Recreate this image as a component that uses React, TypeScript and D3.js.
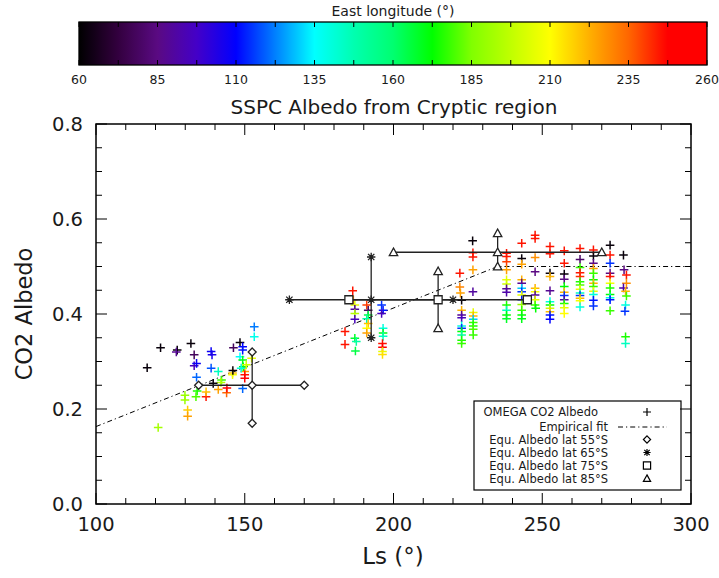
import React from "react";
import * as d3 from "d3";

// ---------- DATA ----------
// OMEGA CO2 albedo points: [Ls (deg), albedo, east longitude (deg)]
const omegaPoints: [number, number, number][] = [
  [117.2, 0.287, 62], [121.7, 0.329, 62], [127.3, 0.324, 62], [127.0, 0.320, 88],
  [131.9, 0.338, 62], [133.0, 0.314, 78], [133.0, 0.291, 95], [133.8, 0.296, 108],
  [133.8, 0.267, 120], [138.7, 0.321, 108], [139.0, 0.314, 105], [138.7, 0.286, 118],
  [141.1, 0.279, 145], [146.2, 0.329, 78], [148.4, 0.340, 62], [149.3, 0.331, 110],
  [149.3, 0.324, 112], [148.4, 0.310, 135], [149.3, 0.303, 170], [153.2, 0.373, 122],
  [153.2, 0.352, 138], [152.3, 0.307, 205], [145.9, 0.276, 220], [145.9, 0.272, 208],
  [146.0, 0.281, 62], [142.2, 0.261, 178], [142.0, 0.256, 195], [139.4, 0.254, 62],
  [141.1, 0.241, 225], [143.9, 0.234, 235], [144.0, 0.244, 248], [137.0, 0.226, 245],
  [137.0, 0.236, 220], [133.6, 0.226, 180], [134.0, 0.238, 175], [129.9, 0.229, 190],
  [129.9, 0.219, 190], [130.8, 0.198, 218], [130.8, 0.185, 225], [120.9, 0.161, 192],
  [149.3, 0.243, 120], [150.0, 0.279, 225], [150.0, 0.272, 245], [150.0, 0.265, 248],
  [149.5, 0.289, 170], [148.8, 0.286, 140], [150.5, 0.293, 200],
  [186.3, 0.449, 245], [186.5, 0.430, 230], [187.0, 0.419, 205], [187.0, 0.410, 90],
  [187.0, 0.401, 195], [187.0, 0.389, 95], [183.7, 0.363, 245], [183.7, 0.336, 245],
  [187.0, 0.349, 168], [187.5, 0.342, 150], [187.2, 0.322, 165], [191.0, 0.419, 240],
  [191.5, 0.408, 78], [191.5, 0.398, 165], [191.0, 0.390, 150], [191.5, 0.380, 220],
  [191.0, 0.370, 210], [191.0, 0.360, 225], [196.0, 0.419, 115], [196.5, 0.408, 112],
  [196.0, 0.401, 95], [196.5, 0.370, 140], [196.5, 0.360, 170], [196.5, 0.353, 145],
  [196.3, 0.338, 245], [196.3, 0.330, 248], [196.3, 0.321, 205], [196.3, 0.315, 215],
  [222.3, 0.486, 245], [222.3, 0.457, 230], [222.5, 0.444, 225], [222.9, 0.429, 62],
  [222.9, 0.408, 222], [222.9, 0.398, 88], [222.9, 0.392, 95], [222.9, 0.375, 140],
  [222.9, 0.370, 115], [222.9, 0.363, 172], [222.9, 0.356, 150], [222.9, 0.345, 175],
  [222.9, 0.338, 178],
  [226.6, 0.554, 62], [226.7, 0.529, 245], [226.7, 0.520, 245], [226.7, 0.493, 225],
  [226.7, 0.447, 90], [226.8, 0.403, 205], [226.8, 0.396, 222], [226.8, 0.389, 130],
  [226.8, 0.382, 178], [226.8, 0.375, 175], [226.8, 0.368, 180], [226.8, 0.356, 178],
  [238.0, 0.528, 245], [238.0, 0.521, 245], [238.0, 0.510, 240], [238.0, 0.493, 225],
  [238.0, 0.472, 205], [238.0, 0.463, 200], [238.0, 0.453, 88], [238.0, 0.446, 92],
  [238.0, 0.419, 175], [238.0, 0.408, 145], [238.0, 0.398, 172], [238.0, 0.390, 168],
  [243.1, 0.549, 245], [243.1, 0.517, 62], [243.1, 0.505, 225], [243.1, 0.472, 222],
  [243.1, 0.465, 88], [243.1, 0.454, 130], [243.1, 0.447, 115], [243.1, 0.440, 205],
  [243.1, 0.430, 112], [243.1, 0.420, 190], [243.1, 0.408, 178], [243.1, 0.398, 172],
  [243.1, 0.390, 170],
  [247.6, 0.566, 245], [247.6, 0.559, 245], [247.6, 0.519, 228], [247.6, 0.489, 85],
  [247.6, 0.454, 222], [247.6, 0.447, 208], [247.6, 0.440, 90], [247.6, 0.430, 205],
  [247.6, 0.419, 178], [247.8, 0.412, 172],
  [252.6, 0.542, 245], [252.6, 0.527, 245], [252.6, 0.486, 62], [252.6, 0.479, 222],
  [252.6, 0.449, 88], [252.6, 0.426, 140], [252.6, 0.419, 172], [252.6, 0.412, 200],
  [252.6, 0.405, 220], [252.6, 0.398, 112], [252.6, 0.389, 110],
  [257.4, 0.533, 245], [257.4, 0.507, 245], [257.4, 0.484, 62], [257.4, 0.473, 85],
  [257.4, 0.458, 172], [257.4, 0.446, 222], [257.4, 0.439, 115], [257.4, 0.430, 90],
  [257.4, 0.422, 175], [257.4, 0.413, 205], [257.4, 0.401, 210],
  [262.7, 0.538, 245], [262.7, 0.515, 80], [262.7, 0.498, 178], [262.7, 0.487, 245],
  [262.7, 0.479, 242], [262.7, 0.468, 175], [262.7, 0.461, 180], [262.7, 0.452, 205],
  [262.7, 0.444, 145], [262.7, 0.439, 115], [262.7, 0.433, 222], [262.7, 0.428, 208],
  [262.7, 0.415, 140],
  [267.2, 0.535, 245], [267.2, 0.522, 62], [267.2, 0.507, 85], [267.2, 0.496, 225],
  [267.2, 0.486, 178], [267.2, 0.472, 172], [267.2, 0.465, 222], [267.2, 0.458, 178],
  [267.2, 0.448, 205], [267.2, 0.441, 140], [267.2, 0.429, 112], [267.2, 0.417, 115],
  [272.8, 0.545, 62], [272.8, 0.524, 245], [272.8, 0.507, 115], [272.8, 0.486, 85],
  [272.8, 0.479, 245], [272.8, 0.465, 208], [272.8, 0.455, 175], [272.8, 0.441, 172],
  [272.8, 0.434, 140], [272.8, 0.430, 112], [272.8, 0.407, 178],
  [277.3, 0.524, 62], [277.5, 0.493, 85], [278.3, 0.482, 245], [278.3, 0.465, 228],
  [277.3, 0.455, 92], [278.0, 0.448, 222], [278.3, 0.438, 178], [278.0, 0.419, 140],
  [277.8, 0.406, 115], [278.0, 0.352, 175], [278.0, 0.338, 145],
];

// Empirical fit (dash-dot)
const fitLs = [100, 235, 300];
const fitAlbedo = [0.163, 0.5, 0.5];

// Equivalent albedo markers with error bars
const equLabels = [
  "Equ. Albedo lat 55°S",
  "Equ. Albedo lat 65°S",
  "Equ. Albedo lat 75°S",
  "Equ. Albedo lat 85°S",
];
const equSymbols = ["diamond", "asterisk", "square", "triangle"];
const equVertEndSymbols = ["diamond", "asterisk", "triangle", "triangle"];
const equLs = [152.5, 192.5, 215, 235];
const equAlbedo = [0.25, 0.43, 0.43, 0.53];
const equLsRange: [number, number][] = [[134.5, 170], [165, 220], [185, 245], [200, 270]];
const equAlbedoRange: [number, number][] = [[0.17, 0.32], [0.35, 0.52], [0.37, 0.49], [0.5, 0.57]];

// Axis ticks
const xTicks = [100, 150, 200, 250, 300];
const yTicks = [0.0, 0.2, 0.4, 0.6, 0.8];
const cbTicks = [60, 85, 110, 135, 160, 185, 210, 235, 260];

// Color table (east longitude -> colour)
const lonStops = [60, 72.5, 85, 97.5, 110, 122.5, 135, 147.5, 160, 172.5, 185, 197.5, 210, 222.5, 235, 247.5, 260];
const lonColors = [
  "#000000", "#33003f", "#5a0a82", "#4400c8", "#0000ff", "#0080ff", "#00ffff", "#00ffb0",
  "#00ff70", "#00ff00", "#80ff00", "#c0ff00", "#ffff00", "#ffb000", "#ff6600", "#ff0000", "#ff0000",
];

// ---------- CHART ----------
const FONT = "'DejaVu Sans', sans-serif";
const INK = "#1a1a1a";

function symbolPath(kind: string, cx: number, cy: number, s: number): string {
  switch (kind) {
    case "plus":
      return `M${cx - s},${cy}H${cx + s}M${cx},${cy - s}V${cy + s}`;
    case "diamond":
      return `M${cx},${cy - s}L${cx + s},${cy}L${cx},${cy + s}L${cx - s},${cy}Z`;
    case "square":
      return `M${cx - s},${cy - s}H${cx + s}V${cy + s}H${cx - s}Z`;
    case "triangle":
      return `M${cx},${cy - s}L${cx + s},${cy + s * 0.8}L${cx - s},${cy + s * 0.8}Z`;
    case "asterisk": {
      const d = s * 0.75;
      return `M${cx - s},${cy}H${cx + s}M${cx},${cy - s}V${cy + s}M${cx - d},${cy - d}L${cx + d},${cy + d}M${cx - d},${cy + d}L${cx + d},${cy - d}`;
    }
    default:
      return "";
  }
}

export default function App() {
  const x = d3.scaleLinear().domain([100, 300]).range([96, 691]);
  const y = d3.scaleLinear().domain([0, 0.8]).range([504, 124]);
  const color = d3
    .scaleLinear<string>()
    .domain(lonStops)
    .range(lonColors)
    .interpolate(d3.interpolateRgb)
    .clamp(true);
  const cb = d3.scaleLinear().domain([60, 260]).range([79, 707]);
  const cbTop = 22;
  const cbBottom = 65;

  const xMinor = d3.range(100, 301, 10);
  const yMinor = d3.range(0, 0.8001, 0.05);
  const cbMinor = d3.range(60, 260.1, 12.5);

  const fitLine = d3
    .line<number>()
    .x((_, i) => x(fitLs[i]))
    .y((d) => y(d))(fitAlbedo) as string;

  const [x0, x1] = x.range();
  const [y0, y1] = y.range();

  const gradStops = d3.range(60, 260.1, 2.5);

  const symSize: Record<string, number> = { diamond: 4, asterisk: 4.2, square: 4, triangle: 4.2 };

  const legendRows = [
    { label: "OMEGA CO2 Albedo", y: 412, kind: "plus", anchorX: 598 },
    { label: "Empirical fit", y: 427, kind: "fit", anchorX: 608 },
    ...equLabels.map((l, i) => ({ label: l, y: 439.5 + i * 13, kind: equSymbols[i], anchorX: 608 })),
  ];

  return (
    <svg
      width={719}
      height={578}
      viewBox="0 0 719 578"
      style={{ position: "absolute", left: 0, top: 0, background: "#fff" }}
      fontFamily={FONT}
    >
      <rect x={0} y={0} width={719} height={578} fill="#fff" />
      <defs>
        <linearGradient id="cbgrad" x1="0" x2="1" y1="0" y2="0">
          {gradStops.map((v) => (
            <stop key={v} offset={(v - 60) / 200} stopColor={color(v)} />
          ))}
        </linearGradient>
      </defs>

      {/* Colour bar */}
      <text x={393} y={16} textAnchor="middle" fontSize={14} fill={INK}>
        East longitude (°)
      </text>
      <rect x={cb(60)} y={cbTop} width={cb(260) - cb(60)} height={cbBottom - cbTop} fill="url(#cbgrad)" />
      {cbMinor.map((v) => (
        <g key={v} stroke="#000" strokeWidth={1}>
          <line x1={cb(v)} x2={cb(v)} y1={cbTop} y2={cbTop + 5} />
          <line x1={cb(v)} x2={cb(v)} y1={cbBottom} y2={cbBottom - 5} />
        </g>
      ))}
      <rect
        x={cb(60)}
        y={cbTop}
        width={cb(260) - cb(60)}
        height={cbBottom - cbTop}
        fill="none"
        stroke="#000"
        strokeWidth={1.3}
      />
      {cbTicks.map((v) => (
        <text key={v} x={cb(v)} y={84} textAnchor="middle" fontSize={12.5} fill={INK}>
          {v}
        </text>
      ))}

      {/* Title */}
      <text x={394} y={114} textAnchor="middle" fontSize={20} fill={INK}>
        SSPC Albedo from Cryptic region
      </text>

      {/* Empirical fit */}
      <path d={fitLine} fill="none" stroke="#000" strokeWidth={1} strokeDasharray="5,3,1.2,3" />

      {/* OMEGA points */}
      {omegaPoints.map(([ls, a, lon], i) => (
        <path
          key={i}
          d={symbolPath("plus", x(ls), y(a), 4.3)}
          stroke={color(lon)}
          strokeWidth={1.5}
          fill="none"
        />
      ))}

      {/* Equivalent albedo error bars */}
      {equLs.map((ls, i) => {
        const cx = x(ls);
        const cy = y(equAlbedo[i]);
        const s = symSize[equSymbols[i]];
        const sv = symSize[equVertEndSymbols[i]];
        return (
          <g key={i} stroke="#222" strokeWidth={1.3} fill="none">
            <line x1={x(equLsRange[i][0])} x2={x(equLsRange[i][1])} y1={cy} y2={cy} />
            <line x1={cx} x2={cx} y1={y(equAlbedoRange[i][0])} y2={y(equAlbedoRange[i][1])} />
            <path d={symbolPath(equSymbols[i], cx, cy, s)} fill="#fff" />
            <path d={symbolPath(equSymbols[i], x(equLsRange[i][0]), cy, s)} fill="#fff" />
            <path d={symbolPath(equSymbols[i], x(equLsRange[i][1]), cy, s)} fill="#fff" />
            <path d={symbolPath(equVertEndSymbols[i], cx, y(equAlbedoRange[i][0]), sv)} fill="#fff" />
            <path d={symbolPath(equVertEndSymbols[i], cx, y(equAlbedoRange[i][1]), sv)} fill="#fff" />
          </g>
        );
      })}

      {/* Legend */}
      <rect x={474} y={401} width={207} height={89} fill="#fff" stroke="#000" strokeWidth={1.2} />
      {legendRows.map((r, i) => (
        <g key={i}>
          <text x={r.anchorX} y={r.y + 4.2} textAnchor="end" fontSize={11.5} fill={INK}>
            {r.label}
          </text>
          {r.kind === "fit" ? (
            <line x1={618} x2={667} y1={r.y} y2={r.y} stroke="#000" strokeWidth={1} strokeDasharray="5,3,1.2,3" />
          ) : (
            <path
              d={symbolPath(r.kind, 647, r.y, r.kind === "plus" ? 4 : 3.6)}
              stroke="#000"
              strokeWidth={1.2}
              fill="none"
            />
          )}
        </g>
      ))}

      {/* Axes frame & ticks */}
      <g stroke="#000" strokeWidth={1}>
        {xMinor.map((v) => {
          const major = Math.abs(v % 50) < 1e-6;
          const len = major ? 11 : 6;
          return (
            <g key={`x${v}`}>
              <line x1={x(v)} x2={x(v)} y1={y0} y2={y0 - len} />
              <line x1={x(v)} x2={x(v)} y1={y1} y2={y1 + len} />
            </g>
          );
        })}
        {yMinor.map((v) => {
          const major = Math.abs((v * 100) % 20) < 1e-4 || Math.abs((v * 100) % 20 - 20) < 1e-4;
          const len = major ? 11 : 6;
          return (
            <g key={`y${v.toFixed(2)}`}>
              <line x1={x0} x2={x0 + len} y1={y(v)} y2={y(v)} />
              <line x1={x1} x2={x1 - len} y1={y(v)} y2={y(v)} />
            </g>
          );
        })}
      </g>
      <rect x={x0} y={y1} width={x1 - x0} height={y0 - y1} fill="none" stroke="#000" strokeWidth={1.5} />

      {xTicks.map((v) => (
        <text key={v} x={x(v)} y={531} textAnchor="middle" fontSize={19.5} fill={INK}>
          {v}
        </text>
      ))}
      {yTicks.map((v) => (
        <text key={v} x={83} y={y(v) + 7} textAnchor="end" fontSize={19.5} fill={INK}>
          {v.toFixed(1)}
        </text>
      ))}
      <text x={393} y={564} textAnchor="middle" fontSize={23} fill={INK}>
        Ls (°)
      </text>
      <text
        transform={`translate(32,${(y0 + y1) / 2}) rotate(-90)`}
        textAnchor="middle"
        fontSize={22.5}
        fill={INK}
      >
        CO2 Albedo
      </text>
    </svg>
  );
}
